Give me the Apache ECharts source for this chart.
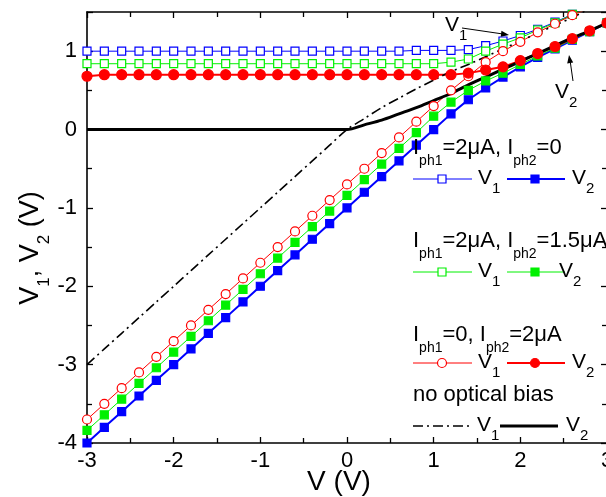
<!DOCTYPE html>
<html>
<head>
<meta charset="utf-8">
<script src="https://cdn.jsdelivr.net/npm/echarts@6/dist/echarts.min.js"></script>
<style>
  html, body { margin: 0; padding: 0; background: #fff; }
  #chart { width: 606px; height: 497px; }
</style>
</head>
<body>
<div id="chart"></div>
<script>
// applied voltage V (x axis)
const V = [-3, -2.8, -2.6, -2.4, -2.2, -2, -1.8, -1.6, -1.4, -1.2, -1, -0.8, -0.6, -0.4, -0.2, 0,
  0.2, 0.4, 0.6, 0.8, 1, 1.2, 1.4, 1.6, 1.8, 2, 2.2, 2.4, 2.6, 2.8, 3];

// Iph1=2uA, Iph2=0
const blueV1 = [1, 1, 1, 1, 1, 1, 1, 1, 1, 1, 1, 1, 1, 1, 1, 1, 1, 1, 1, 1.01, 1.01, 1.01, 1.02, 1.07, 1.13, 1.2, 1.28, 1.37, 1.47, 1.55, 1.64];
const blueV2 = [-4, -3.8, -3.6, -3.4, -3.2, -3, -2.8, -2.6, -2.4, -2.2, -2, -1.8, -1.6, -1.4, -1.2, -1, -0.8, -0.6, -0.4, -0.2, 0, 0.2, 0.38, 0.53, 0.67, 0.8, 0.92, 1.03, 1.14, 1.25, 1.36];

// Iph1=2uA, Iph2=1.5uA
const greenV1 = [0.84, 0.84, 0.84, 0.84, 0.84, 0.84, 0.84, 0.84, 0.84, 0.84, 0.84, 0.84, 0.84, 0.84, 0.84, 0.84, 0.84, 0.84, 0.84, 0.84, 0.84, 0.86, 0.9, 1, 1.09, 1.17, 1.27, 1.36, 1.47, 1.55, 1.64];
const greenV2 = [-3.84, -3.64, -3.44, -3.24, -3.04, -2.84, -2.64, -2.44, -2.24, -2.04, -1.84, -1.64, -1.44, -1.24, -1.04, -0.84, -0.64, -0.44, -0.24, -0.04, 0.17, 0.35, 0.5, 0.62, 0.72, 0.83, 0.94, 1.04, 1.15, 1.25, 1.36];

// Iph1=0, Iph2=2uA
const redV1 = [-3.7, -3.5, -3.3, -3.1, -2.9, -2.7, -2.5, -2.3, -2.1, -1.9, -1.7, -1.5, -1.3, -1.1, -0.9, -0.7, -0.5, -0.3, -0.1, 0.1, 0.3, 0.5, 0.68, 0.86, 1, 1.12, 1.24, 1.35, 1.46, 1.55, 1.64];
const redV2 = [0.68, 0.7, 0.7, 0.7, 0.7, 0.7, 0.7, 0.7, 0.7, 0.7, 0.7, 0.7, 0.7, 0.7, 0.7, 0.7, 0.7, 0.7, 0.7, 0.7, 0.7, 0.7, 0.72, 0.76, 0.8, 0.88, 0.97, 1.06, 1.16, 1.26, 1.36];

// no optical bias
const darkV1 = [-3, -2.8, -2.6, -2.4, -2.2, -2, -1.8, -1.6, -1.4, -1.2, -1, -0.8, -0.6, -0.4, -0.2, 0, 0.14, 0.28, 0.4, 0.52, 0.63, 0.74, 0.83, 0.93, 1.03, 1.13, 1.23, 1.33, 1.43, 1.54, 1.64];
const darkV2 = [0, 0, 0, 0, 0, 0, 0, 0, 0, 0, 0, 0, 0, 0, 0, 0, 0.06, 0.12, 0.2, 0.28, 0.37, 0.46, 0.57, 0.67, 0.77, 0.87, 0.97, 1.07, 1.17, 1.26, 1.36];

const FONT = '"Liberation Sans", Arial, Helvetica, sans-serif';
const BLUE = '#0000ff', GREEN = '#00f000', RED = '#ff0000';

const chart = echarts.init(document.getElementById('chart'), null, { renderer: 'canvas' });

function pairs(ys) {
  return V.map((x, i) => [x, ys[i]]);
}

function curve(ys, color, width, symbol, filled, size) {
  return {
    type: 'line',
    data: pairs(ys),
    symbol: symbol,
    symbolSize: size || 8,
    showSymbol: symbol !== 'none',
    clip: true,
    lineStyle: { color: color, width: width },
    itemStyle: { color: filled ? color : '#fff', borderColor: color, borderWidth: 1.2 },
    emphasis: { disabled: true },
    z: 2
  };
}

function xAx(pos, labels) {
  return {
    type: 'value', position: pos, min: -3, max: 3, interval: 1,
    axisLine: { show: true, onZero: false, lineStyle: { color: '#000', width: 1.6 } },
    axisTick: { show: true, inside: true, length: 6, lineStyle: { color: '#000', width: 1.3 } },
    minorTick: { show: true, splitNumber: 2, length: 5, lineStyle: { color: '#000', width: 1.3 } },
    axisLabel: { show: labels, color: '#000', fontSize: 22, fontFamily: FONT, margin: 7 },
    splitLine: { show: false }
  };
}
function yAx(pos, labels) {
  return {
    type: 'value', position: pos, min: -4, max: 1.5, interval: 1,
    axisLine: { show: true, onZero: false, lineStyle: { color: '#000', width: 1.6 } },
    axisTick: { show: true, inside: true, length: 6, lineStyle: { color: '#000', width: 1.3 } },
    minorTick: { show: true, splitNumber: 2, length: 5, lineStyle: { color: '#000', width: 1.3 } },
    axisLabel: { show: labels, color: '#000', fontSize: 22, fontFamily: FONT, margin: 10, showMaxLabel: false },
    splitLine: { show: false }
  };
}

// rich text helpers for subscripts
function richStyle(F, LH, f, P) {
  return {
    b: { fontSize: F, lineHeight: LH, fontFamily: FONT, color: '#000', verticalAlign: 'top' },
    s: { fontSize: f, lineHeight: f, fontFamily: FONT, color: '#000', verticalAlign: 'top', padding: [P, 0, 0, 0] }
  };
}
function title(x, capTop, text) {
  return { type: 'text', x: x, y: capTop - 3, z: 10,
    style: { text: text, rich: richStyle(22, 24, 14, 17), verticalAlign: 'top', align: 'left' } };
}
function vLabel(x, cy, sub) {
  return { type: 'text', x: x, y: cy - 11, z: 10,
    style: { text: '{b|V}{s|' + sub + '}', rich: richStyle(21, 22, 15, 13), verticalAlign: 'top', align: 'left' } };
}
function seg(x1, x2, y, color, w, dash) {
  return { type: 'line', z: 10, shape: { x1: x1, y1: y, x2: x2, y2: y },
    style: { stroke: color, lineWidth: w, lineDash: dash || null } };
}
function sq(cx, cy, color, filled) {
  return { type: 'rect', z: 11, shape: { x: cx - 4, y: cy - 4, width: 8, height: 8 },
    style: { fill: filled ? color : '#fff', stroke: color, lineWidth: 1.2 } };
}
function dot(cx, cy, color, filled) {
  return { type: 'circle', z: 11, shape: { cx: cx, cy: cy, r: 4.5 },
    style: { fill: filled ? color : '#fff', stroke: color, lineWidth: 1.2 } };
}

const DASHDOT = [10, 4, 2, 4];

const graphics = [
  // axis titles
  { type: 'text', x: 339, y: 468, z: 10,
    style: { text: 'V (V)', fontSize: 28, fontFamily: FONT, fill: '#000', align: 'center', verticalAlign: 'top' } },
  { type: 'text', x: 31, y: 248, rotation: Math.PI / 2, z: 10,
    style: { text: '{b|V}{s|1}{b|, V}{s|2}{b| (V)}', rich: richStyle(27, 28, 17, 19), align: 'center', verticalAlign: 'middle' } },

  // legend block 1
  title(413, 140, '{b|I}{s|ph1}{b|=2μA, I}{s|ph2}{b|=0}'),
  seg(413, 472, 179, BLUE, 1), sq(442, 179, BLUE, false), vLabel(478, 179, '1'),
  seg(507, 565, 179, BLUE, 2), sq(535, 179, BLUE, true), vLabel(572, 179, '2'),

  // legend block 2
  title(413, 233, '{b|I}{s|ph1}{b|=2μA, I}{s|ph2}{b|=1.5μA}'),
  seg(413, 472, 272, GREEN, 1), sq(442, 272, GREEN, false), vLabel(478, 272, '1'),
  seg(507, 565, 272, GREEN, 1), sq(535, 272, GREEN, true), vLabel(559, 272, '2'),

  // legend block 3
  title(413, 327, '{b|I}{s|ph1}{b|=0, I}{s|ph2}{b|=2μA}'),
  seg(413, 472, 363, RED, 1), dot(442, 363, RED, false), vLabel(478, 363, '1'),
  seg(507, 565, 363, RED, 2), dot(535, 363, RED, true), vLabel(572, 363, '2'),

  // legend block 4
  { type: 'text', x: 413, y: 384, z: 10,
    style: { text: 'no optical bias', fontSize: 22, fontFamily: FONT, fill: '#000', align: 'left', verticalAlign: 'top' } },
  seg(413, 470, 426, '#000', 1.5, DASHDOT), vLabel(477, 426, '1'),
  seg(500, 558, 426, '#000', 3), vLabel(566, 426, '2'),

  // V1 annotation arrow
  { type: 'text', x: 445, y: 15, z: 10,
    style: { text: '{b|V}{s|1}', rich: richStyle(21, 22, 15, 13), verticalAlign: 'top', align: 'left' } },
  { type: 'line', z: 10, shape: { x1: 462, y1: 28, x2: 503, y2: 34 }, style: { stroke: '#000', lineWidth: 1 } },
  { type: 'polygon', z: 10, shape: { points: [[509, 35], [500.7, 36.8], [501.5, 30.8]] }, style: { fill: '#000' } },

  // V2 annotation arrow
  { type: 'text', x: 555, y: 82, z: 10,
    style: { text: '{b|V}{s|2}', rich: richStyle(21, 22, 15, 13), verticalAlign: 'top', align: 'left' } },
  { type: 'line', z: 10, shape: { x1: 573, y1: 81, x2: 570, y2: 60 }, style: { stroke: '#000', lineWidth: 1 } },
  { type: 'polygon', z: 10, shape: { points: [[569, 55], [573.2, 62.4], [567.2, 63.4]] }, style: { fill: '#000' } }
];

const darkV1Series = curve(darkV1, '#000', 1.6, 'none', true);
darkV1Series.lineStyle.type = DASHDOT;
darkV1Series.smooth = 0.3;
const darkV2Series = curve(darkV2, '#000', 3, 'none', true);
darkV2Series.smooth = 0.3;

chart.setOption({
  animation: false,
  backgroundColor: '#fff',
  grid: { left: 87, right: -1, top: 12, bottom: 54, containLabel: false, outerBoundsMode: 'none' },
  xAxis: [xAx('bottom', true), xAx('top', false)],
  yAxis: [yAx('left', true), yAx('right', false)],
  series: [
    curve(blueV1, BLUE, 1, 'rect', false, 8),
    curve(blueV2, BLUE, 2, 'rect', true, 8),
    curve(greenV1, GREEN, 1, 'rect', false, 8),
    curve(greenV2, GREEN, 1, 'rect', true, 8),
    curve(redV1, RED, 1, 'circle', false, 9),
    curve(redV2, RED, 2, 'circle', true, 10),
    darkV1Series,
    darkV2Series
  ],
  graphic: graphics
});
</script>
</body>
</html>
